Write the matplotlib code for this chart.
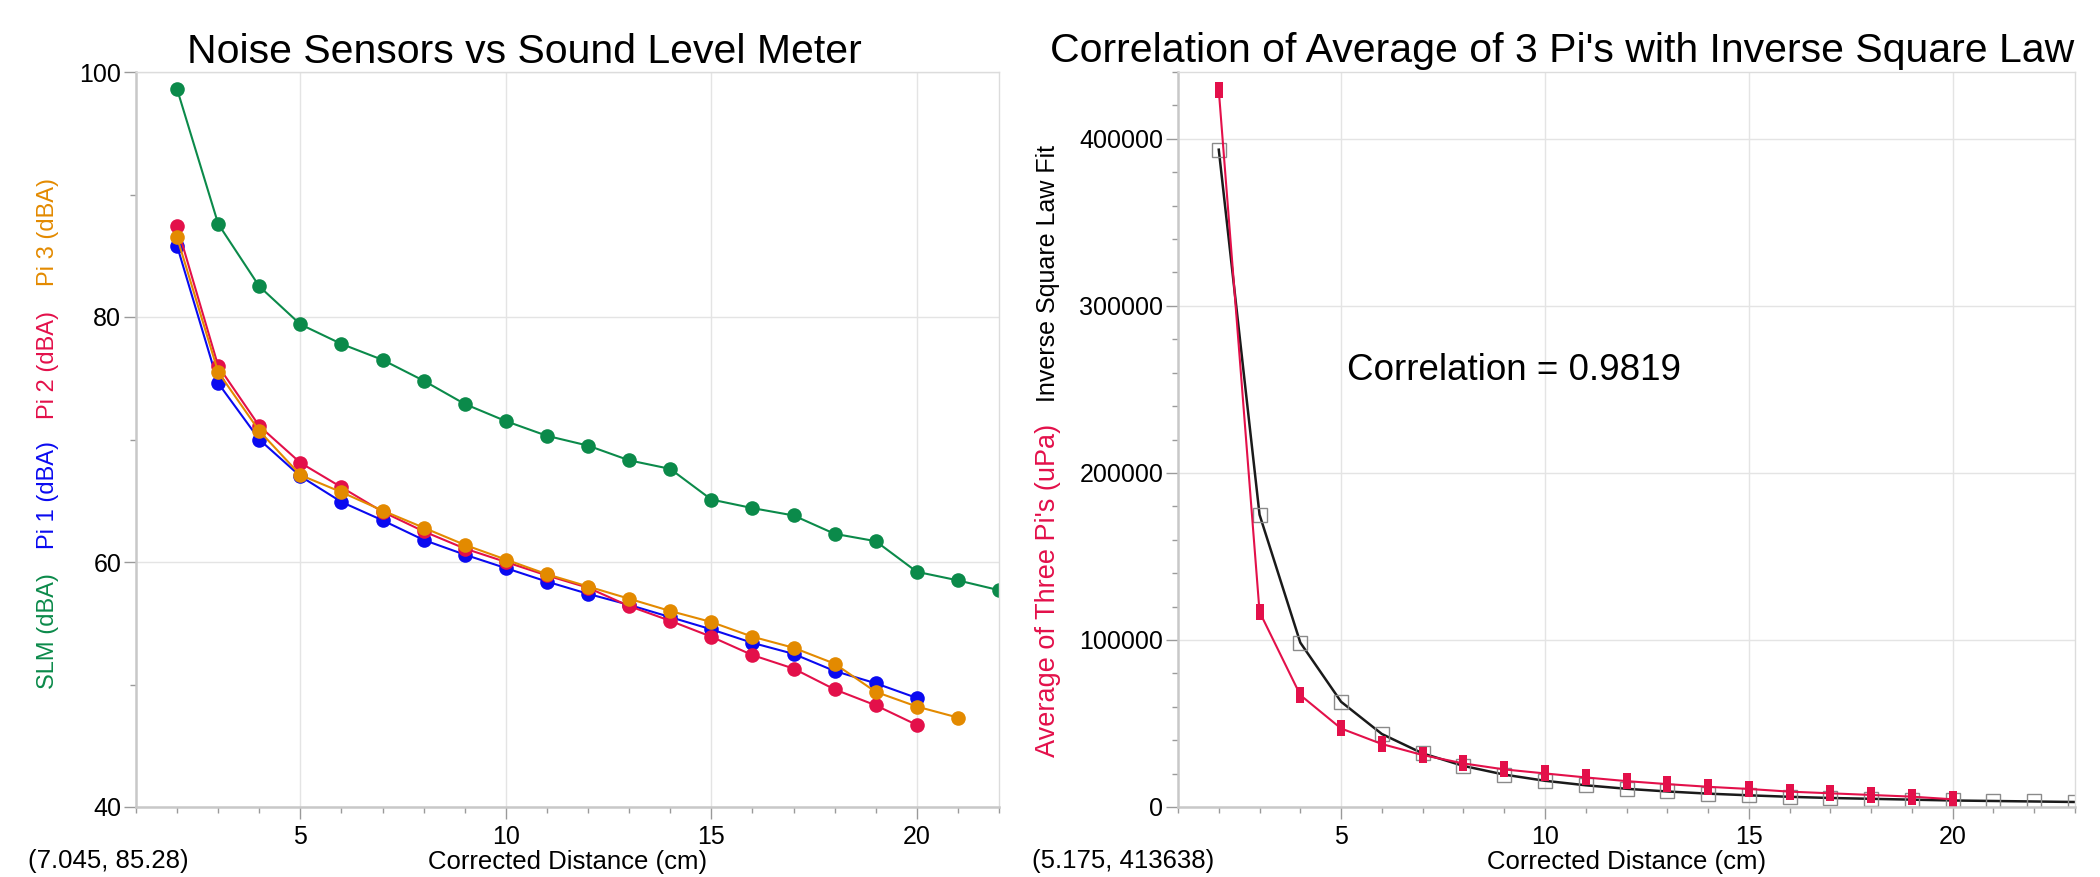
import matplotlib
matplotlib.use('Agg')
import matplotlib.pyplot as plt
from matplotlib.ticker import MultipleLocator, FormatStrFormatter

plt.rcParams['font.family'] = ['Liberation Sans', 'DejaVu Sans']

# ---------------- data ----------------
dist_slm = [2, 3, 4, 5, 6, 7, 8, 9, 10, 11, 12, 13, 14, 15, 16, 17, 18, 19, 20, 21, 22]
slm_dba = [98.6, 87.6, 82.5, 79.4, 77.8, 76.5, 74.8, 72.9, 71.5, 70.3, 69.5,
           68.3, 67.6, 65.1, 64.4, 63.8, 62.3, 61.7, 59.2, 58.5, 57.7]

dist_pi12 = [2, 3, 4, 5, 6, 7, 8, 9, 10, 11, 12, 13, 14, 15, 16, 17, 18, 19, 20]
pi1_dba = [85.8, 74.6, 70.0, 67.0, 64.9, 63.4, 61.8, 60.6, 59.5, 58.4, 57.4,
           56.5, 55.5, 54.5, 53.4, 52.5, 51.1, 50.1, 48.9]
pi2_dba = [87.4, 76.0, 71.1, 68.1, 66.1, 64.1, 62.5, 61.1, 60.0, 58.9, 57.9,
           56.4, 55.2, 53.9, 52.4, 51.3, 49.6, 48.3, 46.7]

dist_pi3 = [2, 3, 4, 5, 6, 7, 8, 9, 10, 11, 12, 13, 14, 15, 16, 17, 18, 19, 20, 21]
pi3_dba = [86.5, 75.5, 70.7, 67.1, 65.7, 64.2, 62.8, 61.4, 60.2, 59.0, 58.0,
           57.0, 56.0, 55.1, 53.9, 53.0, 51.7, 49.4, 48.2, 47.3]

dist_avg = [2, 3, 4, 5, 6, 7, 8, 9, 10, 11, 12, 13, 14, 15, 16, 17, 18, 19, 20]
avg_upa = [429200, 116800, 67000, 47000, 37700, 31100, 26100, 22500, 20100, 17700,
           15500, 13700, 12100, 10800, 9200, 8200, 7200, 6200, 4600]

dist_fit = [2, 3, 4, 5, 6, 7, 8, 9, 10, 11, 12, 13, 14, 15, 16, 17, 18, 19, 20, 21, 22, 23]
fit_upa = [393500, 175000, 98400, 63000, 43700, 32100, 24600, 19400, 15700, 13000,
           10900, 9300, 8000, 7000, 6100, 5400, 4900, 4400, 3900, 3600, 3300, 3000]

left_title = "Noise Sensors vs Sound Level Meter"
right_title = "Correlation of Average of 3 Pi's with Inverse Square Law"
x_label = "Corrected Distance (cm)"
left_ylabels = ["SLM (dBA)", "Pi 1 (dBA)", "Pi 2 (dBA)", "Pi 3 (dBA)"]
right_ylabels = ["Average of Three Pi's (uPa)", "Inverse Square Law Fit"]
left_coord = "(7.045, 85.28)"
right_coord = "(5.175, 413638)"
corr_text = "Correlation = 0.9819"

# ---------------- style ----------------
GREEN = '#0b8a4a'
BLUE = '#0a0af0'
RED = '#e3104a'
ORANGE = '#e38a00'

W, H = 2100, 877
fig = plt.figure(figsize=(21, 8.77), dpi=100)
fig.patch.set_facecolor('white')


def px_axes(x0, x1, ytop, ybot):
    return fig.add_axes([x0 / W, (H - ybot) / H, (x1 - x0) / W, (ybot - ytop) / H])


def style_axes(ax):
    ax.set_axisbelow(True)
    ax.grid(True, which='major', color='#e4e4e4', lw=1.0)
    for s in ['top', 'right']:
        ax.spines[s].set_color('#dcdcdc')
        ax.spines[s].set_linewidth(1.0)
    for s in ['left', 'bottom']:
        ax.spines[s].set_color('#c8c8c8')
        ax.spines[s].set_linewidth(1.8)
    ax.tick_params(which='major', direction='out', length=8.6, width=1.0,
                   color='#9a9a9a', labelsize=18, labelcolor='black', pad=2)
    ax.tick_params(which='minor', direction='out', length=4.3, width=1.0,
                   color='#9a9a9a')
    ax.tick_params(axis='x', which='major', pad=4)
    ax.set_xlabel(x_label, fontsize=18.5)
    ax.xaxis.label.set_va('baseline')
    ax.xaxis.set_label_coords(0.5, -(869 - 807) / 735)


# ---------------- left panel ----------------
axL = px_axes(136, 999, 72, 807)
style_axes(axL)
axL.set_xlim(1, 22)
axL.set_ylim(40, 100)
axL.xaxis.set_major_locator(MultipleLocator(5))
axL.xaxis.set_minor_locator(MultipleLocator(1))
axL.yaxis.set_major_locator(MultipleLocator(20))
axL.yaxis.set_minor_locator(MultipleLocator(10))

ms = 10.5
axL.plot(dist_slm, slm_dba, color=GREEN, lw=1.5, marker='o', ms=ms, mew=0)
axL.plot(dist_pi12, pi1_dba, color=BLUE, lw=1.5, marker='o', ms=ms, mew=0)
axL.plot(dist_pi12, pi2_dba, color=RED, lw=1.5, marker='o', ms=ms, mew=0)
axL.plot(dist_pi3, pi3_dba, color=ORANGE, lw=1.5, marker='o', ms=ms, mew=0)

fig.text(524 / W, (H - 63) / H, left_title, fontsize=29.5, ha='center', va='baseline')

left_label_colors = [GREEN, BLUE, RED, ORANGE]
left_label_centers = [631, 495, 365, 232]
for txt, col, yc in zip(left_ylabels, left_label_colors, left_label_centers):
    fig.text(48 / W, (H - yc) / H, txt, color=col, fontsize=17, rotation=90,
             ha='center', va='center')

fig.text(28 / W, (H - 868) / H, left_coord, fontsize=18.5, ha='left', va='baseline')

# ---------------- right panel ----------------
axR = px_axes(1178, 2075, 72, 807)
style_axes(axR)
axR.set_xlim(1, 23)
axR.set_ylim(0, 440000)
axR.xaxis.set_major_locator(MultipleLocator(5))
axR.xaxis.set_minor_locator(MultipleLocator(1))
axR.yaxis.set_major_locator(MultipleLocator(100000))
axR.yaxis.set_minor_locator(MultipleLocator(20000))
axR.yaxis.set_major_formatter(FormatStrFormatter('%d'))

axR.plot(dist_fit, fit_upa, color='#1a1a1a', lw=1.8, marker='s', ms=10.5,
         mfc='none', mec='#8a8a8a', mew=1.0)
bar_marker = [(-0.28, -0.5), (0.28, -0.5), (0.28, 0.5), (-0.28, 0.5), (-0.28, -0.5)]
axR.plot(dist_avg, avg_upa, color=RED, lw=1.5, marker=bar_marker, ms=11, mew=0,
         mfc=RED)

fig.text(1562 / W, (H - 62) / H, right_title, fontsize=29.5, ha='center', va='baseline')
fig.text(1347 / W, (H - 380) / H, corr_text, fontsize=26.5, ha='left', va='baseline')

right_label_colors = [RED, 'black']
right_label_centers = [590, 274]
right_label_sizes = [19.5, 18]
for txt, col, yc, fs in zip(right_ylabels, right_label_colors, right_label_centers,
                            right_label_sizes):
    fig.text(1048 / W, (H - yc) / H, txt, color=col, fontsize=fs, rotation=90,
             ha='center', va='center')

fig.text(1032 / W, (H - 868) / H, right_coord, fontsize=18.5, ha='left', va='baseline')

fig.savefig('out.png', dpi=100, facecolor='white')
